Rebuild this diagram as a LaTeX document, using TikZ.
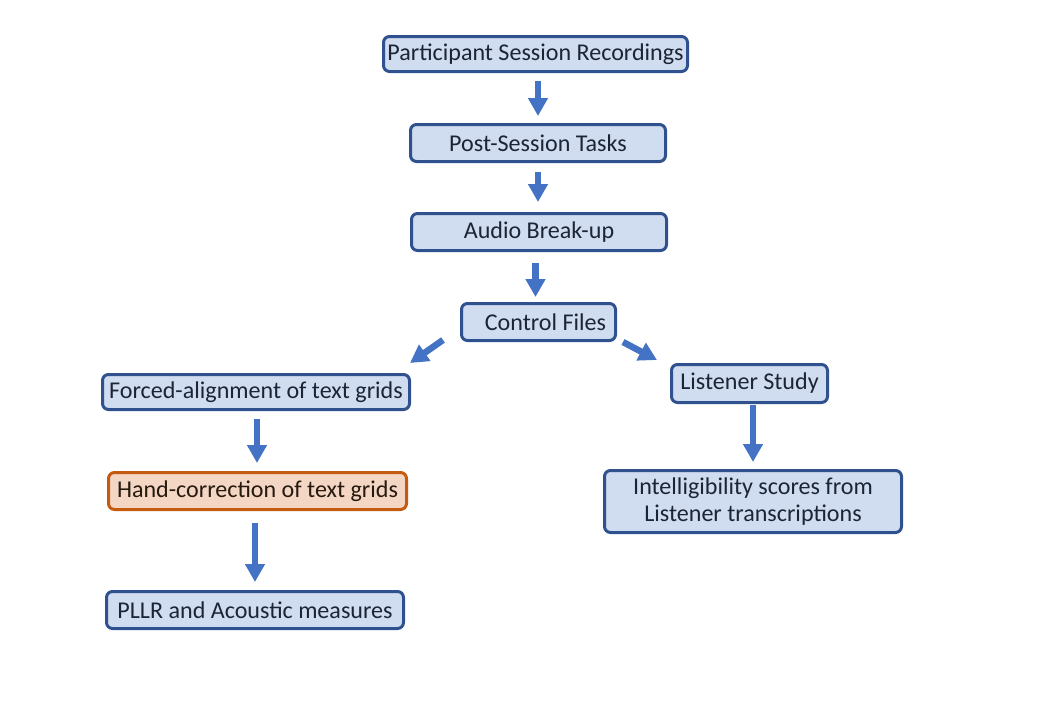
\documentclass[tikz,border=0pt]{standalone}
\usepackage{fontspec}
\setmainfont{Carlito}
\usetikzlibrary{arrows.meta}
\definecolor{boxline}{HTML}{2F528F}
\definecolor{boxfill}{HTML}{D0DCEF}
\definecolor{hcline}{HTML}{C55A11}
\definecolor{hcfill}{HTML}{F3D6C4}
\definecolor{arrowblue}{HTML}{4472C4}
\definecolor{txtdark}{HTML}{1B2535}
\tikzset{
    mynode/.style = {rectangle, rounded corners=0.12cm, line width=0.06cm, draw=boxline, fill=boxfill, align=center, inner sep=0pt, font=\fontsize{13.7}{15.6}\selectfont, text=txtdark},
    mynodeo/.style = {mynode, draw=hcline, fill=hcfill, text=black!80!brown},
    edgeb/.style = {-{Triangle[length=0.36cm,width=0.38cm]}, line width=0.13cm, arrowblue}, % block arrow
}
\begin{document}
\begin{tikzpicture}
\path[use as bounding box] (0,0) rectangle (20.96,-14.40);
\node[mynode, minimum width=6.08cm, minimum height=0.70cm] at (10.71,-1.08) (rec) {Participant Session Recordings};
\node[mynode, minimum width=5.10cm, minimum height=0.74cm] at (10.76,-2.86) (post) {Post-Session Tasks};
\node[mynode, minimum width=5.10cm, minimum height=0.74cm] at (10.78,-4.64) (audio) {Audio Break-up};
\node[mynode, minimum width=3.08cm, minimum height=0.74cm] at (10.77,-6.44) (ctrl) {\hspace*{0.28cm}Control Files};
\node[mynode, minimum width=6.14cm, minimum height=0.70cm] at (5.12,-7.84) (forced) {Forced-alignment of text grids};
\node[mynode, minimum width=3.12cm, minimum height=0.76cm] at (14.99,-7.67) (listen) {Listener Study};
\node[mynodeo, minimum width=5.96cm, minimum height=0.74cm] at (5.15,-9.82) (hand) {Hand-correction of text grids};
\node[mynode, minimum width=5.94cm, minimum height=1.24cm] at (15.06,-10.03) (intel) {Intelligibility scores from\\Listener transcriptions};
\node[mynode, minimum width=5.94cm, minimum height=0.74cm] at (5.10,-12.20) (pllr) {PLLR and Acoustic measures};
%
\draw[edgeb, shorten <=0.16cm, shorten >=0.14cm] (rec.south -| post.north) -- (post.north);
\draw[edgeb, shorten <=0.18cm, shorten >=0.20cm] (post.south) -- (post.south |- audio.north);
\draw[edgeb, shorten <=0.22cm, shorten >=0.10cm] ([xshift=-0.06cm]ctrl.north |- audio.south) -- ([xshift=-0.06cm]ctrl.north);
\draw[edgeb] ([shift={(-0.34,0.04)}]ctrl.south west) -- ([shift={(-0.02,0.20)}]forced.north east);
\draw[edgeb] ([shift={(0.12,0)}]ctrl.south east) -- ([shift={(-0.26,0.06)}]listen.north west);
\draw[edgeb, shorten <=0.16cm, shorten >=0.16cm] ([xshift=0.02cm]forced.south) -- ([xshift=0.02cm]forced.south |- hand.north);
\draw[edgeb, shorten <=0.02cm, shorten >=0.14cm] (listen.south -| intel.north) -- (intel.north);
\draw[edgeb, shorten <=0.24cm, shorten >=0.16cm] (hand.south -| pllr.north) -- (pllr.north);
\end{tikzpicture}
\end{document}
